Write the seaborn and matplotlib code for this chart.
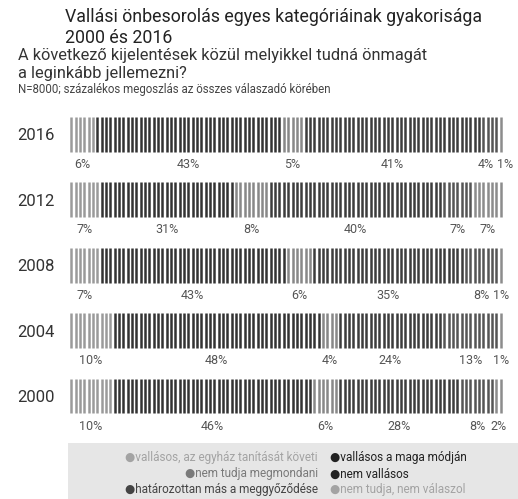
import pandas as pd
import matplotlib.pyplot as plt
import seaborn as sns
from matplotlib.patches import Rectangle

# survey years, top to bottom
years = ["2016", "2012", "2008", "2004", "2000"]

categories = [
    "vallásos, az egyház tanítását követi",
    "vallásos a maga módján",
    "nem tudja megmondani",
    "nem vallásos",
    "határozottan más a meggyőződése",
    "nem tudja, nem válaszol",
]

# percentages per category, same order as years
vallasos_egyhazi = [6, 7, 7, 10, 10]
maga_modjan = [43, 31, 43, 48, 46]
nem_tudja_megmondani = [5, 8, 6, 4, 6]
nem_vallasos = [41, 40, 35, 24, 28]
mas_meggyozodes = [4, 7, 8, 13, 8]
nem_valaszol = [1, 7, 1, 1, 2]

series = [vallasos_egyhazi, maga_modjan, nem_tudja_megmondani,
          nem_vallasos, mas_meggyozodes, nem_valaszol]

stripe_colors = ["#9a9a9a", "#333333", "#888888", "#3c3c3c", "#555555", "#8c8c8c"]
legend_colors = ["#a3a3a3", "#222222", "#7a7a7a", "#222222", "#444444", "#a3a3a3"]

sns.set_theme(style="white")
plt.rcParams["font.family"] = ["Roboto", "DejaVu Sans"]

# one row per 1% unit -> barcode-like stripes
rows = []
for yi, year in enumerate(years):
    unit = 0
    for ci, cat in enumerate(categories):
        for k in range(series[ci][yi]):
            rows.append({"ypos": yi, "unit": unit + 0.5, "category": cat})
            unit += 1
df = pd.DataFrame(rows)

fig = plt.figure(figsize=(5.18, 4.99), dpi=100)
ax = fig.add_axes([69 / 518, 1 - 428.7 / 499, 434 / 518, 327 / 499])

sns.scatterplot(data=df, x="unit", y="ypos", hue="category",
                palette=dict(zip(categories, stripe_colors)),
                marker="|", s=635, linewidth=1.8, legend=False, ax=ax)

ax.set_xlim(0, 100)
ax.set_ylim(4.5, -0.5)
ax.set_xticks([])
ax.set_yticks(range(len(years)))
ax.set_yticklabels(years, fontsize=12, color="#333333")
ax.tick_params(axis="y", pad=10, length=0)
ax.set_xlabel("")
ax.set_ylabel("")
sns.despine(ax=ax, left=True, bottom=True)

# percentage labels under each segment
px_per_unit = 434 / 100
for yi in range(len(years)):
    vals = [s[yi] for s in series]
    centers = []
    start = 0
    for v in vals:
        centers.append(start + v / 2)
        start += v
    # push apart labels that would collide
    min_gap = 20 / px_per_unit
    for i in range(1, len(centers)):
        if centers[i] - centers[i - 1] < min_gap:
            shift = (min_gap - (centers[i] - centers[i - 1])) / 2
            centers[i - 1] -= shift
            centers[i] += shift
    for v, c in zip(vals, centers):
        ax.annotate(f"{v}%", xy=(c, yi), xytext=(0, -30), textcoords="offset pixels",
                    ha="center", va="center", fontsize=9, color="#555555",
                    annotation_clip=False)

# titles
fig.text(65 / 518, 1 - 8 / 499, "Vallási önbesorolás egyes kategóriáinak gyakorisága\n2000 és 2016",
         ha="left", va="top", fontsize=12.8, color="#222222", linespacing=1.22)
fig.text(18 / 518, 1 - 48 / 499, "A következő kijelentések közül melyikkel tudná önmagát\na leginkább jellemezni?",
         ha="left", va="top", fontsize=11.8, color="#333333", linespacing=1.25)
fig.text(18 / 518, 1 - 83 / 499, "N=8000; százalékos megoszlás az összes válaszadó körében",
         ha="left", va="top", fontsize=8.3, color="#444444")

# legend box
fig.add_artist(Rectangle((68 / 518, 0), 1 - 68 / 518, 56 / 499,
                         transform=fig.transFigure, facecolor="#e6e6e6",
                         edgecolor="none", zorder=0))
row_y = [457, 474, 490]
for i, (cat, col) in enumerate(zip(categories, legend_colors)):
    r = i // 2
    y = 1 - row_y[r] / 499
    if i % 2 == 0:
        fig.text(318 / 518, y, "\u25cf" + cat, ha="right", va="center",
                 fontsize=8.5, color=col)
    else:
        fig.text(330 / 518, y, "\u25cf" + cat, ha="left", va="center",
                 fontsize=8.5, color=col)

fig.savefig("out.png", dpi=100, facecolor="white")
